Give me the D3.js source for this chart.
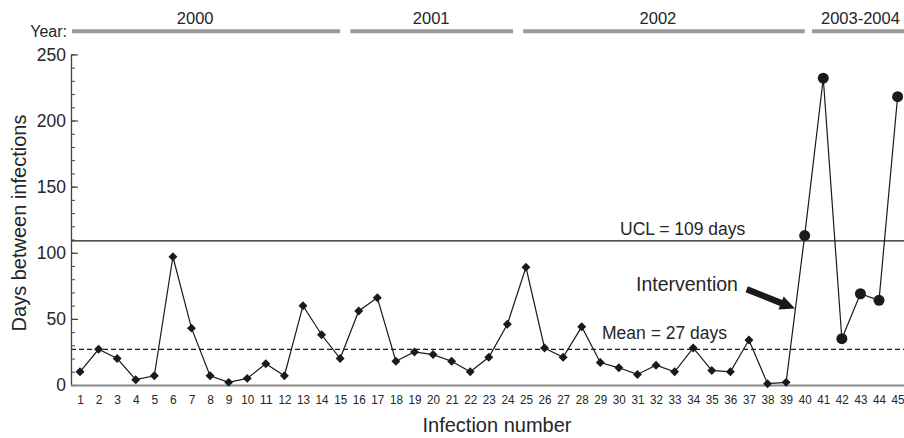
<!DOCTYPE html>
<html>
<head>
<meta charset="utf-8">
<script src="https://cdn.jsdelivr.net/npm/d3@7"></script>
<style>
  html, body { margin: 0; padding: 0; background: #fff; }
  svg { display: block; font-family: "Liberation Sans", Arial, sans-serif; }
</style>
</head>
<body>
<svg id="chart" width="904" height="438"></svg>
<script>
// ---- data ----
const infectionNumbers = d3.range(1, 46);
const daysBetween = [10, 27, 20, 4, 7, 97, 43, 7, 2, 5,
                     16, 7, 60, 38, 20, 56, 66, 18, 25, 23,
                     18, 10, 21, 46, 89, 28, 21, 44, 17, 13,
                     8, 15, 10, 28, 11, 10, 34, 1, 2, 113,
                     232, 35, 69, 64, 218];
const lastPreIntervention = 39;
const ucl = 109;
const mean = 27;
const yTicks = [0, 50, 100, 150, 200, 250];
const yearLabels = ["2000", "2001", "2002", "2003-2004"];
const yearStart = [0.5, 15.55, 24.85, 40.4];
const yearEnd   = [15.0, 24.3, 40.0, 45.4];
const yearLabelPos = [7.2, 19.9, 32.1, 43.0];

// ---- layout ----
const svg = d3.select("#chart");
const axisX = 71, rightEdge = 904;
const x = d3.scaleLinear().domain([1, 45]).range([80, 897.6]);
const y = d3.scaleLinear().domain([0, 250]).range([385, 54.4]);
const ink = "#1a1a1a";
const txt = "#262626";

// year bars
const yearG = svg.append("g");
yearG.append("text").attr("x", 67).attr("y", 37).attr("text-anchor", "end")
  .attr("font-size", 16).attr("fill", txt).text("Year:");
yearLabels.forEach((lab, i) => {
  const x0 = Math.max(axisX + 1, x(yearStart[i]));
  const x1 = Math.min(rightEdge, x(yearEnd[i]));
  yearG.append("line").attr("x1", x0).attr("x2", x1).attr("y1", 31.3).attr("y2", 31.3)
    .attr("stroke", "#999").attr("stroke-width", 4);
  yearG.append("text").attr("x", x(yearLabelPos[i])).attr("y", 23.5)
    .attr("text-anchor", "middle").attr("font-size", 16.5).attr("fill", txt).text(lab);
});

// reference lines
svg.append("line").attr("x1", axisX).attr("x2", rightEdge)
  .attr("y1", y(ucl)).attr("y2", y(ucl)).attr("stroke", ink).attr("stroke-width", 1.3);
svg.append("line").attr("x1", axisX).attr("x2", rightEdge)
  .attr("y1", y(mean)).attr("y2", y(mean)).attr("stroke", ink).attr("stroke-width", 1.2)
  .attr("stroke-dasharray", "5,3");

svg.append("text").attr("x", 620).attr("y", 234.5).attr("font-size", 17.5).attr("fill", txt)
  .text("UCL = 109 days");
svg.append("text").attr("x", 602).attr("y", 339).attr("font-size", 17.5).attr("fill", txt)
  .text("Mean = 27 days");
svg.append("text").attr("x", 636).attr("y", 291).attr("font-size", 19.5).attr("fill", txt)
  .text("Intervention");

// arrow (from tail to tip, positioned in data units)
(function () {
  const tx = x(36.88), ty = y(72.4), hx = x(39.48), hy = y(57.8);
  const ang = Math.atan2(hy - ty, hx - tx);
  const len = Math.hypot(hx - tx, hy - ty);
  const headLen = 15, shaftW = 3.2, headW = 7;
  const g = svg.append("g").attr("transform", `translate(${tx},${ty}) rotate(${ang * 180 / Math.PI})`);
  g.append("path").attr("fill", ink)
    .attr("d", `M0,${-shaftW} L${len - headLen},${-shaftW} L${len - headLen},${-headW} L${len},0 L${len - headLen},${headW} L${len - headLen},${shaftW} L0,${shaftW} Z`);
})();

// axes
const yMinor = svg.append("g").attr("transform", `translate(${axisX},0)`)
  .call(d3.axisLeft(y).tickValues(d3.range(0, 251, 10)).tickSize(-4).tickFormat(""));
yMinor.select(".domain").remove();
yMinor.selectAll("line").attr("stroke", "#444");

const yAxis = svg.append("g").attr("transform", `translate(${axisX},0)`)
  .call(d3.axisLeft(y).tickValues(yTicks).tickSize(-7).tickSizeOuter(0).tickPadding(5));
yAxis.select(".domain").attr("stroke", "#444").attr("stroke-width", 1.3);
yAxis.selectAll("line").attr("stroke", "#444").attr("stroke-width", 1.2);
yAxis.selectAll("text").attr("font-size", 17.5).attr("fill", txt)
  .attr("font-family", "Liberation Sans, Arial, sans-serif");

svg.append("line").attr("x1", axisX).attr("x2", rightEdge).attr("y1", y(0) + 0.5).attr("y2", y(0) + 0.5)
  .attr("stroke", "#888").attr("stroke-width", 2);

const xAxis = svg.append("g").attr("transform", `translate(0,${y(0)})`)
  .call(d3.axisBottom(x).tickValues(infectionNumbers).tickSize(0).tickPadding(10).tickFormat(d3.format("d")));
xAxis.select(".domain").remove();
xAxis.selectAll("text").attr("font-size", 12).attr("fill", txt)
  .attr("font-family", "Liberation Sans, Arial, sans-serif")
  .each(function (d) { if (String(d).length > 1) d3.select(this).attr("textLength", 13).attr("lengthAdjust", "spacingAndGlyphs"); });

// axis titles
svg.append("text").attr("transform", `translate(26,223) rotate(-90)`).attr("text-anchor", "middle")
  .attr("font-size", 20).attr("fill", txt).text("Days between infections");
svg.append("text").attr("x", 497).attr("y", 432).attr("text-anchor", "middle")
  .attr("font-size", 20).attr("fill", txt).text("Infection number");

// data line
const pts = infectionNumbers.map((n, i) => ({ n, v: daysBetween[i] }));
svg.append("path").datum(pts)
  .attr("fill", "none").attr("stroke", ink).attr("stroke-width", 1.2)
  .attr("d", d3.line().x(d => x(d.n)).y(d => y(d.v)));

// markers
svg.append("g").selectAll("path").data(pts.filter(d => d.n <= lastPreIntervention)).join("path")
  .attr("transform", d => `translate(${x(d.n)},${y(d.v)}) rotate(45)`)
  .attr("d", d3.symbol(d3.symbolSquare, 40)).attr("fill", ink);
svg.append("g").selectAll("circle").data(pts.filter(d => d.n > lastPreIntervention)).join("circle")
  .attr("cx", d => x(d.n)).attr("cy", d => y(d.v)).attr("r", 5.5).attr("fill", ink);
</script>
</body>
</html>
